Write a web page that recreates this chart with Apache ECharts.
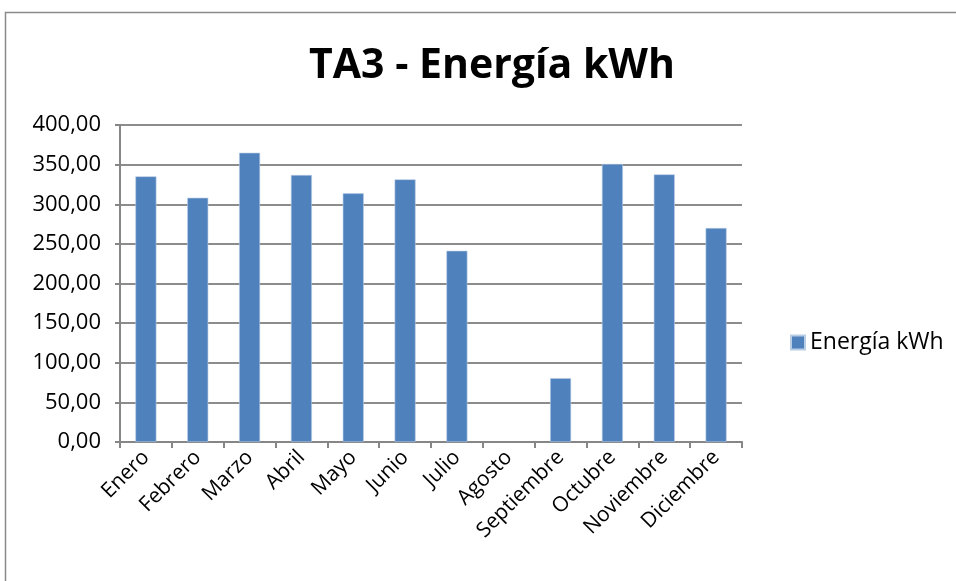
<!DOCTYPE html>
<html>
<head>
<meta charset="utf-8">
<script src="https://cdn.jsdelivr.net/npm/echarts@6/dist/echarts.min.js"></script>
<style>
  html, body { margin: 0; padding: 0; background: #fff; }
  #chart { width: 956px; height: 581px; }
</style>
</head>
<body>
<div id="chart"></div>
<script>
// Monthly energy for TA3 (kWh)
const months = ['Enero', 'Febrero', 'Marzo', 'Abril', 'Mayo', 'Junio', 'Julio',
                'Agosto', 'Septiembre', 'Octubre', 'Noviembre', 'Diciembre'];
const energyKwh = [335.2, 308.2, 365.0, 336.9, 313.8, 331.4, 241.3,
                   0, 80.6, 350.8, 337.7, 270.0];
const seriesName = 'Energía kWh';
const chartTitle = 'TA3 - Energía kWh';

const FONT = '"Open Sans", "Noto Sans", sans-serif';
const chart = echarts.init(document.getElementById('chart'), null, { renderer: 'canvas' });

// zero-height bars get no outline
const barData = energyKwh.map(v => v === 0 ? { value: v, itemStyle: { borderWidth: 0 } } : v);

chart.setOption({
  animation: false,
  backgroundColor: '#fff',
  title: {
    text: chartTitle,
    left: 487, top: 41, textAlign: 'center',
    textStyle: { fontFamily: FONT, fontWeight: 'bold', fontSize: 41, color: '#000' }
  },
  legend: {
    data: [seriesName],
    left: 785, top: 326,
    icon: 'rect', itemWidth: 14, itemHeight: 14, itemGap: 7,
    textStyle: { fontFamily: FONT, fontSize: 23, color: '#000' }
  },
  grid: { left: 120, right: 214, top: 125, bottom: 139, containLabel: false },
  xAxis: {
    type: 'category',
    data: months,
    boundaryGap: true,
    axisLine: { lineStyle: { color: '#868686', width: 2 } },
    axisTick: { show: true, length: 6, lineStyle: { color: '#868686', width: 2 } },
    axisLabel: { rotate: 45, fontFamily: FONT, fontSize: 21, color: '#000', margin: 12 }
  },
  yAxis: {
    type: 'value',
    min: 0, max: 400, interval: 50,
    axisLine: { show: true, lineStyle: { color: '#868686', width: 2 } },
    axisTick: { show: true, length: 5, lineStyle: { color: '#868686', width: 2 } },
    splitLine: { lineStyle: { color: '#8c8c8c', width: 2 } },
    axisLabel: {
      fontFamily: FONT, fontSize: 22, color: '#000', margin: 19,
      formatter: v => v.toFixed(2).replace('.', ',')
    }
  },
  series: [{
    name: seriesName,
    type: 'bar',
    data: barData,
    barWidth: 21,
    itemStyle: { color: '#4f81bd', borderColor: '#b9cde5', borderWidth: 0.6 }
  }],
  graphic: [{
    type: 'polyline',
    shape: { points: [[5.5, 600], [5.5, 12.5], [960, 12.5]] },
    style: { stroke: '#8a8a8a', lineWidth: 1.5, fill: null },
    silent: true
  }]
});
</script>
</body>
</html>
